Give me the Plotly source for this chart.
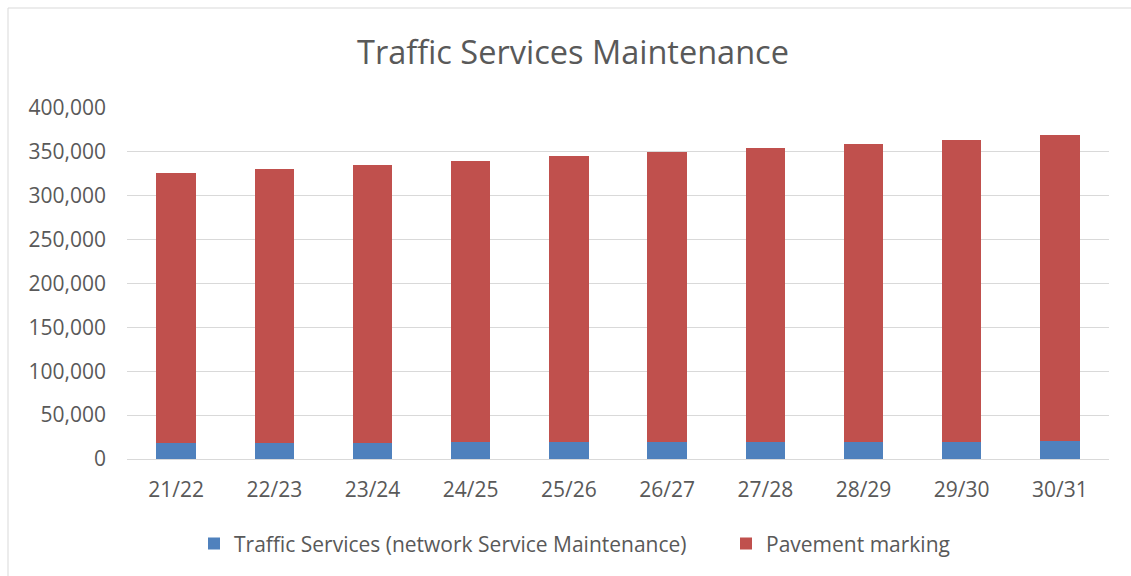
import plotly.graph_objects as go

# Financial years
years = ["21/22", "22/23", "23/24", "24/25", "25/26", "26/27", "27/28", "28/29", "29/30", "30/31"]

# Network service maintenance (lower segment)
traffic_services = [18400, 18600, 18800, 19000, 19200, 19400, 19600, 19800, 19900, 20000]

# Pavement marking (upper segment)
pavement_marking = [308100, 312400, 316700, 321000, 325800, 330100, 334600, 339300, 343600, 349000]

y_ticks = [0, 50000, 100000, 150000, 200000, 250000, 300000, 350000, 400000]

font_family = "Open Sans, Liberation Sans, sans-serif"
text_color = "#595959"

fig = go.Figure()
fig.add_trace(go.Bar(
    x=years, y=traffic_services,
    name="Traffic Services (network Service Maintenance)",
    marker=dict(color="#4f81bd", line=dict(width=0)),
    legend="legend",
))
fig.add_trace(go.Bar(
    x=years, y=pavement_marking,
    name="Pavement marking",
    marker=dict(color="#c0504d", line=dict(width=0)),
    legend="legend2",
))

legend_style = dict(
    orientation="h",
    xanchor="left",
    y=-0.242, yanchor="middle",
    font=dict(size=21, color=text_color),
    itemwidth=30,
    bgcolor="rgba(0,0,0,0)",
)

fig.update_layout(
    barmode="stack",
    bargap=0.6,
    width=1131, height=576,
    margin=dict(l=127, r=22, t=108, b=117),
    paper_bgcolor="white",
    plot_bgcolor="white",
    font=dict(family=font_family, size=21, color=text_color),
    title=dict(
        text="Traffic Services Maintenance",
        x=573 / 1131, xanchor="center",
        y=1 - 53 / 576, yanchor="middle",
        font=dict(family=font_family, size=32.5, color=text_color),
    ),
    xaxis=dict(
        showgrid=False, showline=False, ticks="",
        ticklabelstandoff=16,
        tickfont=dict(size=21, color=text_color),
    ),
    yaxis=dict(
        range=[0, 400000],
        tickvals=y_ticks,
        tickformat=",d",
        showgrid=True, gridcolor="#d9d9d9", gridwidth=1,
        zeroline=True, zerolinecolor="#d9d9d9", zerolinewidth=1,
        showline=False, ticks="",
        ticklabelstandoff=20,
        tickfont=dict(size=21, color=text_color),
    ),
    legend=dict(legend_style, x=(194 - 127) / 982),
    legend2=dict(legend_style, x=(726 - 127) / 982),
    showlegend=True,
)

# Chart frame
fig.add_shape(
    type="rect", xref="paper", yref="paper",
    x0=-119 / 982, x1=1126 / 982, y0=-1, y1=1 + 100 / 351,
    line=dict(color="#d9d9d9", width=1), fillcolor="rgba(0,0,0,0)",
    layer="below",
)

fig.write_html("out.html")
